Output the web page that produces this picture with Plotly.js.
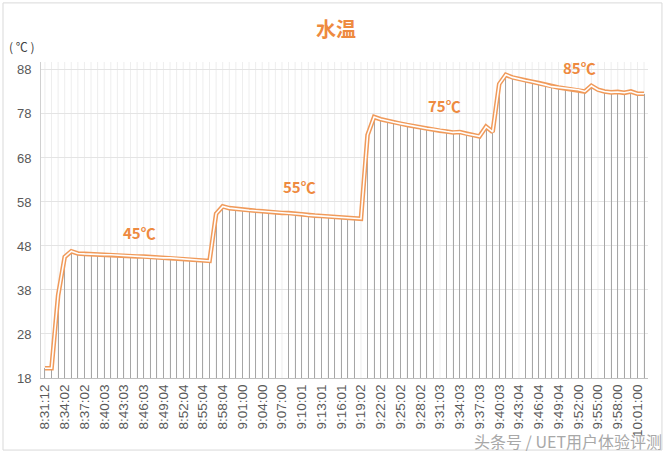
<!DOCTYPE html>
<html>
<head>
<meta charset="utf-8">
<script src="https://cdn.plot.ly/plotly-3.0.1.min.js"></script>
<style>html,body{margin:0;padding:0;background:#fff;}#chart{width:672px;height:460px;}</style>
</head>
<body>
<div id="chart"></div>
<script>
// Water temperature readings, one per minute (index 0 = 8:31:12)
const temps = [
  20.2, 20.2, 36.8, 45.5, 46.8, 46.3, 46.2, 46.1, 46.1, 46.0,
  46.0, 45.9, 45.8, 45.7, 45.6, 45.6, 45.5, 45.4, 45.3, 45.3,
  45.2, 45.1, 45.0, 44.9, 44.8, 44.6, 55.3, 57.0, 56.6, 56.4,
  56.2, 56.1, 56.0, 55.9, 55.7, 55.6, 55.5, 55.5, 55.3, 55.2,
  55.0, 54.9, 54.8, 54.7, 54.6, 54.5, 54.4, 54.3, 54.2, 73.2,
  77.3, 76.8, 76.4, 76.1, 75.8, 75.5, 75.2, 75.0, 74.7, 74.5,
  74.2, 74.0, 73.8, 73.9, 73.5, 73.2, 72.9, 75.1, 73.9, 84.8,
  86.9, 86.3, 85.9, 85.6, 85.3, 85.0, 84.6, 84.2, 84.0, 83.8,
  83.6, 83.5, 83.1, 84.4, 83.5, 83.1, 82.9, 83.0, 82.8, 83.1,
  82.6, 82.6
];
// Time labels shown on the x axis (every third reading)
const timeLabels = [
  "8:31:12","8:34:02","8:37:02","8:40:03","8:43:03","8:46:03","8:49:04","8:52:04",
  "8:55:04","8:58:04","9:01:00","9:04:00","9:07:00","9:10:01","9:13:01","9:16:01",
  "9:19:02","9:22:02","9:25:02","9:28:02","9:31:03","9:34:03","9:37:03","9:40:03",
  "9:43:04","9:46:04","9:49:04","9:52:00","9:55:00","9:58:00","10:01:00"
];
const labelStep = 3;
const yTicks = [18, 28, 38, 48, 58, 68, 78, 88];
// Stage labels: text, reading index, temperature level
const stageText = ["45℃", "55℃", "75℃", "85℃"];
const stageIndex = [14.4, 38.6, 60.7, 81.2];
const stageLevel = [51.0, 61.4, 80.0, 88.5];

const xs = temps.map((_, i) => i);
const tickIdx = timeLabels.map((_, i) => i * labelStep);
const ORANGE = '#EE8A3F';

const traces = [
  { type: 'bar', x: xs, y: temps, width: 0.14, marker: { color: '#a6a6a6', line: { width: 0 } },
    hoverinfo: 'skip', showlegend: false },
  { type: 'scatter', mode: 'lines', x: xs, y: temps, line: { color: '#F09A5A', width: 4.6 },
    hoverinfo: 'skip', showlegend: false },
  { type: 'scatter', mode: 'lines', x: xs, y: temps, line: { color: '#ffffff', width: 1.6 },
    hoverinfo: 'skip', showlegend: false }
];

const annotations = stageText.map((t, i) => ({
  x: stageIndex[i], y: stageLevel[i], xref: 'x', yref: 'y', text: t, showarrow: false,
  font: { family: 'Noto Sans CJK SC, Noto Sans, sans-serif', size: 15, color: ORANGE, weight: 'bold' }
}));
annotations.push({
  xref: 'paper', yref: 'paper', x: -0.031, y: 1.05, xanchor: 'center', yanchor: 'middle',
  text: '( ℃ )', showarrow: false,
  font: { family: 'Noto Sans CJK SC, sans-serif', size: 12, color: '#404040' }
});
annotations.push({
  xref: 'paper', yref: 'paper', x: 1.027, y: -0.2, xanchor: 'right', yanchor: 'middle',
  text: '头条号 / UET用户体验评测', showarrow: false,
  font: { family: 'Noto Sans CJK SC, sans-serif', size: 16, color: '#a8a8a8' }
});

const layout = {
  width: 672, height: 460,
  margin: { l: 41, r: 24, t: 62, b: 82 },
  paper_bgcolor: '#ffffff', plot_bgcolor: '#ffffff',
  bargap: 0,
  title: { text: '水温', x: 0.5, xanchor: 'center', y: 0.935, yanchor: 'middle',
    font: { family: 'Noto Sans CJK SC, sans-serif', size: 20, color: ORANGE, weight: 'bold' } },
  xaxis: {
    range: [-0.6, temps.length - 0.4],
    tickmode: 'array', tickvals: tickIdx, ticktext: timeLabels, tickangle: -90,
    tickfont: { family: 'Liberation Sans, Arial, sans-serif', size: 13.5, color: '#595959' },
    showgrid: false, zeroline: false,
    showline: true, linecolor: '#bfbfbf', linewidth: 1,
    ticks: '', fixedrange: true
  },
  yaxis: {
    range: [18, 89.8],
    tickmode: 'array', tickvals: yTicks,
    tickfont: { family: 'Liberation Sans, Arial, sans-serif', size: 13, color: '#595959' },
    showgrid: true, gridcolor: '#e4e4e4', gridwidth: 1, zeroline: false,
    showline: true, linecolor: '#d0d0d0', linewidth: 1,
    ticks: 'outside', ticklen: 6, tickcolor: 'rgba(0,0,0,0)', fixedrange: true
  },
  shapes: [
    ...xs.map(i => ({ type: 'line', xref: 'x', yref: 'paper', x0: i, x1: i, y0: 0, y1: 1,
      line: { color: '#eeeeee', width: 1 }, layer: 'below' })),
    { type: 'rect', xref: 'paper', yref: 'paper', x0: -0.0626, x1: 1.023, y0: -0.228, y1: 1.187,
      line: { color: '#d9d9d9', width: 1 }, fillcolor: 'rgba(0,0,0,0)', layer: 'below' }
  ],
  annotations: annotations,
  showlegend: false
};

Plotly.newPlot('chart', traces, layout, { displayModeBar: false, staticPlot: true });
</script>
</body>
</html>
